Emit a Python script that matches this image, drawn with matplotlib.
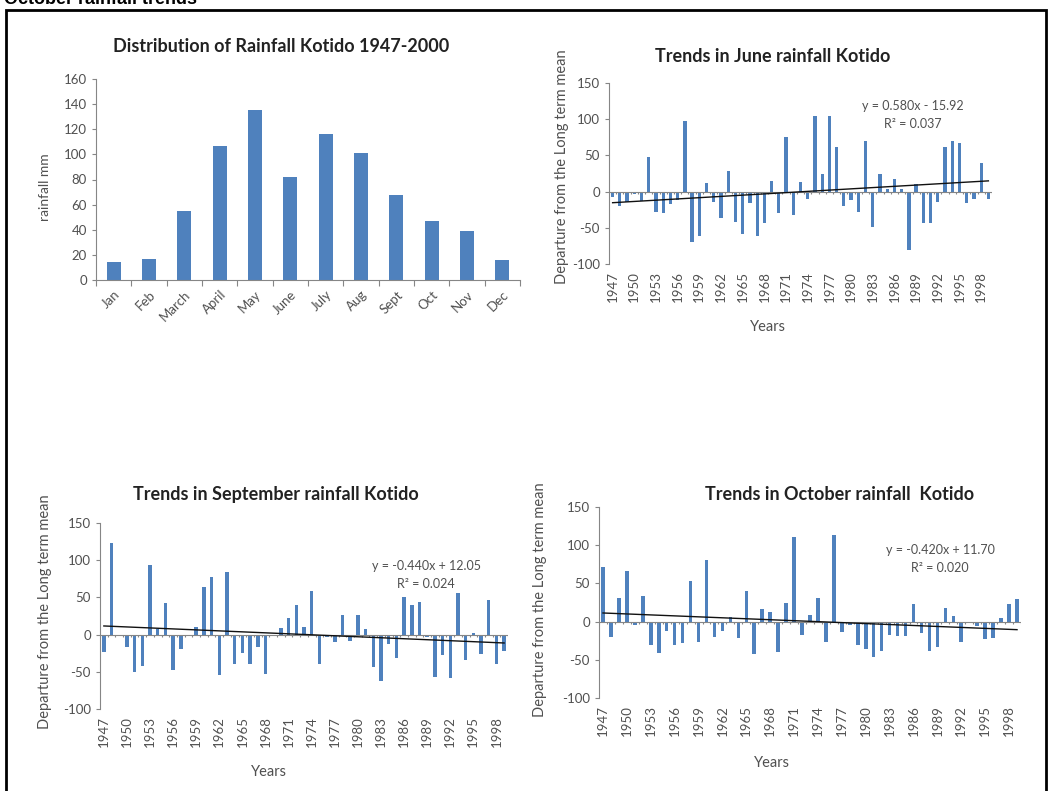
import numpy as np
import matplotlib
matplotlib.use("Agg")
import matplotlib.pyplot as plt
from matplotlib.patches import Rectangle

plt.rcParams['font.family'] = ['Lato', 'DejaVu Sans']
plt.rcParams['axes.unicode_minus'] = False

# monthly mean rainfall
months = ['Jan', 'Feb', 'March', 'April', 'May', 'June', 'July', 'Aug', 'Sept', 'Oct', 'Nov', 'Dec']
rain_mm = [14, 17, 55, 107, 135, 82, 116, 101, 68, 47, 39, 16]

years = list(range(1947, 2000))

june_dep = [-8, -20, -15, -3, -13, 48, -28, -30, -17, -12,
            97, -70, -62, 12, -15, -36, 28, -42, -59, -16,
            -61, -44, 15, -30, 76, -33, 13, -10, 105, 24,
            105, 62, -20, -12, -28, 70, -49, 25, 4, 18,
            3, -80, 11, -44, -44, -14, 62, 70, 67, -16,
            -10, 39, -10]
sept_dep = [-23, 123, -1, -16, -50, -42, 93, 8, 42, -47,
            -19, -2, 10, 64, 78, -54, 84, -39, -25, -40,
            -16, -53, -1, 9, 22, 40, 10, 58, -40, -3,
            -10, 27, -8, 27, 7, -43, -62, -12, -32, 50,
            40, 44, -3, -57, -28, -59, 56, -34, 2, -26,
            46, -40, -22]
oct_dep = [72, -20, 31, 66, -4, 34, -31, -41, -12, -31,
           -28, 53, -27, 80, -20, -12, 6, -22, 40, -43,
           17, 12, -40, 25, 111, -17, 9, 31, -27, 114,
           -13, -5, -31, -36, -46, -39, -17, -19, -19, 23,
           -15, -38, -33, 18, 7, -27, -2, -6, -23, -21,
           5, 23, 30]

# trend lines as printed on the charts (x = 1..n)
june_fit = (0.580, -15.92, '0.037')
sept_fit = (-0.440, 12.05, '0.024')
oct_fit = (-0.420, 11.70, '0.020')

W, H = 1052, 791
BLUE = '#4F81BD'
GREY = '#868686'
TXT = '#505050'

fig = plt.figure(figsize=(W / 100, H / 100), dpi=100)


def box(l, t, r, b):
    return [l / W, 1 - b / H, (r - l) / W, (b - t) / H]


def ftext(x, y, s, **kw):
    fig.text(x / W, 1 - y / H, s, **kw)


def style(ax):
    for s in ['top', 'right']:
        ax.spines[s].set_visible(False)
    ax.spines['left'].set_color(GREY)
    ax.spines['bottom'].set_color(GREY)
    ax.tick_params(axis='y', colors=GREY, labelcolor=TXT, labelsize=9.5, length=3, width=0.8)


# bar chart
ax = fig.add_axes(box(96, 79, 520, 280))
x = np.arange(len(months))
ax.bar(x, rain_mm, width=0.4, color=BLUE)
ax.set_xlim(-0.5, len(months) - 0.5)
ax.set_ylim(0, 160)
ax.set_yticks(range(0, 161, 20))
style(ax)
ax.set_xticks(np.arange(len(months) + 1) - 0.5, minor=True)
ax.tick_params(axis='x', which='minor', length=4, color=GREY, width=0.8)
ax.set_xticks(x)
ax.set_xticklabels(months, rotation=45, ha='right', rotation_mode='anchor')
ax.tick_params(axis='x', which='major', length=0, labelsize=9.5, labelcolor=TXT, pad=6)
ftext(281, 47, 'Distribution of Rainfall Kotido 1947-2000', ha='center', va='center',
      fontsize=13, fontweight='bold', color='#222222')
ftext(45, 187, 'rainfall mm', rotation=90, ha='center', va='center', fontsize=10, color=TXT)


def trend_chart(rect, dep, fit, title, tpos, ylab, yearpos, eqpos):
    ax = fig.add_axes(box(*rect))
    n = len(dep)
    idx = np.arange(n)
    ax.bar(idx, dep, width=0.45, color=BLUE)
    ax.set_xlim(-0.5, n - 0.5)
    ax.set_ylim(-100, 150)
    ax.set_yticks(range(-100, 151, 50))
    style(ax)
    ax.spines['bottom'].set_visible(False)
    ax.axhline(0, color=GREY, lw=0.8, zorder=1)
    ax.vlines(np.arange(n + 1) - 0.5, -3, 0, color=GREY, lw=0.8)
    a, b, r2 = fit
    ax.plot(idx, a * (idx + 1) + b, color='#111111', lw=1.0, zorder=3)
    ticks = idx[::3]
    ax.set_xticks(ticks)
    ax.set_xticklabels([str(years[i]) for i in ticks], rotation=90)
    ax.tick_params(axis='x', length=0, labelsize=9.5, labelcolor=TXT, pad=5)
    ftext(tpos[0], tpos[1], title, ha='center', va='center', fontsize=13,
          fontweight='bold', color='#222222')
    ftext(ylab[0], ylab[1], 'Departure from the Long term mean', rotation=90,
          ha='center', va='center', fontsize=10.5, color=TXT)
    ftext(yearpos[0], yearpos[1], 'Years', ha='center', va='center', fontsize=10.5, color=TXT)
    sign = '+' if b >= 0 else '-'
    ftext(eqpos[0], eqpos[1], 'y = %.3fx %s %.2f' % (a, sign, abs(b)), ha='center',
          va='center', fontsize=9, color=TXT)
    ftext(eqpos[0], eqpos[1] + 18, 'R\u00b2 = ' + r2, ha='center', va='center',
          fontsize=9, color=TXT)


trend_chart((609, 83, 992, 264), june_dep, june_fit, 'Trends in June rainfall Kotido',
            (773, 56), (562, 167), (768, 327), (913, 106))
trend_chart((100, 523, 508, 709), sept_dep, sept_fit, 'Trends in September rainfall Kotido',
            (276, 494), (45, 612), (269, 772), (426, 566))
trend_chart((599, 507, 1021, 698), oct_dep, oct_fit, 'Trends in October rainfall  Kotido',
            (840, 494), (540, 600), (772, 763), (940, 550))

# outer frame and cut-off heading
fig.add_artist(Rectangle((6 / W, -0.05), 1040 / W, 1 - 10 / H + 0.05,
                         transform=fig.transFigure, fill=False, lw=2, ec='black'))
fig.text(4 / W, 1 - 4 / H, 'October rainfall trends', ha='left', va='baseline',
         fontsize=13, fontweight='bold', family=['Liberation Sans'], color='black')

fig.savefig('out.png', dpi=100)
